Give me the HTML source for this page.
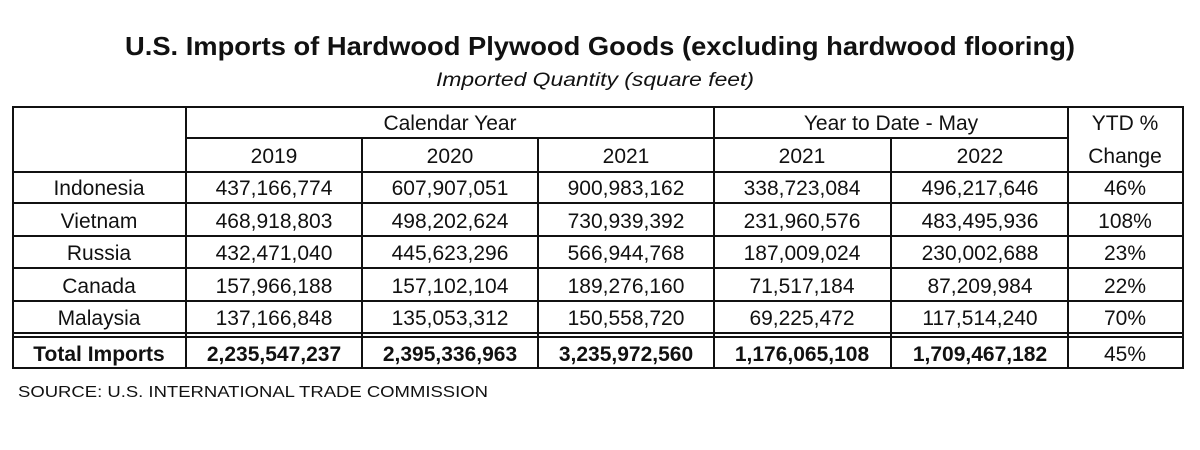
<!DOCTYPE html>
<html><head><meta charset="utf-8"><style>
html,body{margin:0;padding:0;background:#fff;width:1200px;height:450px;overflow:hidden}
svg text{font-family:"Liberation Sans",sans-serif;fill:#111}
</style></head><body>
<svg width="1200" height="450" viewBox="0 0 1200 450" xmlns="http://www.w3.org/2000/svg">
<text x="125" y="55" font-size="26" font-weight="bold" textLength="950" lengthAdjust="spacingAndGlyphs">U.S. Imports of Hardwood Plywood Goods (excluding hardwood flooring)</text>
<text x="436" y="86" font-size="19" font-style="italic" textLength="318" lengthAdjust="spacingAndGlyphs">Imported Quantity (square feet)</text>
<g stroke="#111" stroke-width="2" fill="none">
<rect x="13" y="107" width="1170" height="261"/>
<line x1="186" y1="138" x2="1068" y2="138"/>
<line x1="13" y1="172" x2="1183" y2="172"/>
<line x1="13" y1="203" x2="1183" y2="203"/>
<line x1="13" y1="236" x2="1183" y2="236"/>
<line x1="13" y1="268" x2="1183" y2="268"/>
<line x1="13" y1="301" x2="1183" y2="301"/>
<line x1="13" y1="333" x2="1183" y2="333"/>
<line x1="13" y1="337" x2="1183" y2="337"/>
<line x1="186" y1="107" x2="186" y2="368"/>
<line x1="362" y1="138" x2="362" y2="368"/>
<line x1="538" y1="138" x2="538" y2="368"/>
<line x1="714" y1="107" x2="714" y2="368"/>
<line x1="891" y1="138" x2="891" y2="368"/>
<line x1="1068" y1="107" x2="1068" y2="368"/>
</g>
<g font-size="21" text-anchor="middle">
<text x="450" y="130">Calendar Year</text>
<text x="891" y="130">Year to Date - May</text>
<text x="1125" y="130">YTD %</text>
<text x="274" y="163">2019</text>
<text x="450" y="163">2020</text>
<text x="626" y="163">2021</text>
<text x="802" y="163">2021</text>
<text x="980" y="163">2022</text>
<text x="1125" y="163">Change</text>
</g>
<g id="rows" font-size="21" text-anchor="middle"></g>
<text x="18" y="397" font-size="16" textLength="470" lengthAdjust="spacingAndGlyphs">SOURCE: U.S. INTERNATIONAL TRADE COMMISSION</text>
</svg>
<script>
const countries=["Indonesia","Vietnam","Russia","Canada","Malaysia","Total Imports"];
const y2019=["437,166,774","468,918,803","432,471,040","157,966,188","137,166,848","2,235,547,237"];
const y2020=["607,907,051","498,202,624","445,623,296","157,102,104","135,053,312","2,395,336,963"];
const y2021=["900,983,162","730,939,392","566,944,768","189,276,160","150,558,720","3,235,972,560"];
const ytd2021=["338,723,084","231,960,576","187,009,024","71,517,184","69,225,472","1,176,065,108"];
const ytd2022=["496,217,646","483,495,936","230,002,688","87,209,984","117,514,240","1,709,467,182"];
const ytdChange=["46%","108%","23%","22%","70%","45%"];
const g=document.getElementById('rows');
const ns="http://www.w3.org/2000/svg";
const colX=[99,274,450,626,802,980,1125];
const rowY=[195,228,260,293,325,361];
const cols=[countries,y2019,y2020,y2021,ytd2021,ytd2022,ytdChange];
countries.forEach((c,i)=>{
  cols.forEach((arr,j)=>{
    const t=document.createElementNS(ns,'text');
    
    
    t.setAttribute('x',colX[j]);
    t.setAttribute('y',rowY[i]);
    if(i===5&&j<6)t.setAttribute('font-weight','bold');
    t.textContent=arr[i];
    g.appendChild(t);
  });
});
</script>
</body></html>
